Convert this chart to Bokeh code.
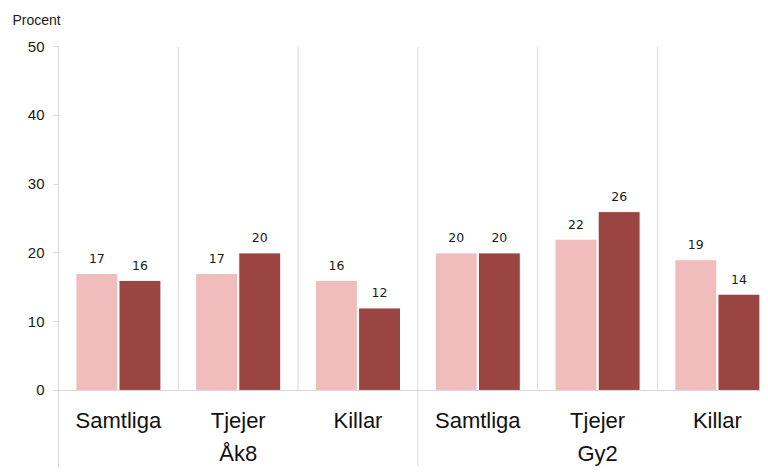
from bokeh.plotting import figure
from bokeh.models import Range1d, FixedTicker, Span, Title, ColumnDataSource
from bokeh.core.properties import value
from bokeh.embed import file_html
from bokeh.resources import INLINE

# ---- data ----
subgroups = ["Samtliga", "Tjejer", "Killar", "Samtliga", "Tjejer", "Killar"]
groups = ["Åk8", "Gy2"]
series_a = [17, 17, 16, 20, 22, 19]   # light bars
series_b = [16, 20, 12, 20, 26, 14]   # dark bars
y_ticks = [0, 10, 20, 30, 40, 50]

COL_A = "#F0BCBC"
COL_B = "#9B4543"
GRID = "#D9D9D9"
FONT = "Liberation Sans"

n = len(subgroups)
centers = [i + 0.5 for i in range(n)]
off = 0.18
bw = 0.35
Y_MIN = -11.05

p = figure(width=760, height=466, output_backend="svg", toolbar_location=None,
           x_range=Range1d(0, 5.86), y_range=Range1d(Y_MIN, 50),
           min_border_left=58, min_border_right=0, min_border_bottom=0,
           min_border_top=46)
p.outline_line_color = None
p.xgrid.visible = False
p.ygrid.visible = False
p.xaxis.visible = False

yax = p.yaxis[0]
yax.ticker = FixedTicker(ticks=y_ticks)
yax.axis_line_color = GRID
yax.major_tick_line_color = GRID
yax.major_tick_out = 5
yax.major_tick_in = 0
yax.minor_tick_line_color = None
yax.major_label_text_font = FONT
yax.major_label_text_font_size = "15px"
yax.major_label_text_color = "#1a1a1a"
yax.major_label_standoff = 9

# separators
sx = [1, 2, 3, 4, 5]
sy0 = [0, 0, Y_MIN, 0, 0]
sy1 = [50] * 5
p.segment(x0=sx, y0=sy0, x1=sx, y1=sy1, line_color=GRID, line_width=1)
p.add_layout(Span(location=0, dimension="width", line_color=GRID, line_width=1))

src = ColumnDataSource(dict(
    xa=[c - off for c in centers], xb=[c + off for c in centers],
    a=series_a, b=series_b,
    la=[str(v) for v in series_a], lb=[str(v) for v in series_b],
    c=centers, sub=subgroups))

p.vbar(x="xa", top="a", bottom=0, width=bw, source=src, fill_color=COL_A,
       line_color="white", line_width=1)
p.vbar(x="xb", top="b", bottom=0, width=bw, source=src, fill_color=COL_B,
       line_color="white", line_width=1)

p.text(x="xa", y="a", text="la", source=src, text_align="center",
       text_baseline="middle", y_offset=-15, text_font=value("DejaVu Sans"),
       text_font_size="12.5px", text_color="#1a1a1a")
p.text(x="xb", y="b", text="lb", source=src, text_align="center",
       text_baseline="middle", y_offset=-15, text_font=value("DejaVu Sans"),
       text_font_size="12.5px", text_color="#1a1a1a")

p.text(x="c", y=0, text="sub", source=src, text_align="center",
       text_baseline="middle", y_offset=30, text_font=value(FONT),
       text_font_size="22px", text_color="#111111")

gsrc = ColumnDataSource(dict(x=[1.5, 4.5], t=groups))
p.text(x="x", y=0, text="t", source=gsrc, text_align="center",
       text_baseline="middle", y_offset=63, text_font=value(FONT),
       text_font_size="22px", text_color="#111111")

# "Procent" unit label; a tiny spacer panel is stacked outside it
p.title = Title(text="Procent", align="left", offset=-46, standoff=18, text_font=FONT,
                text_font_size="14px", text_font_style="normal",
                text_color="#1a1a1a")
p.add_layout(Title(text=" ", standoff=7, text_font_size="1px"), "above")

open("out.html", "w").write(file_html(p, INLINE))
